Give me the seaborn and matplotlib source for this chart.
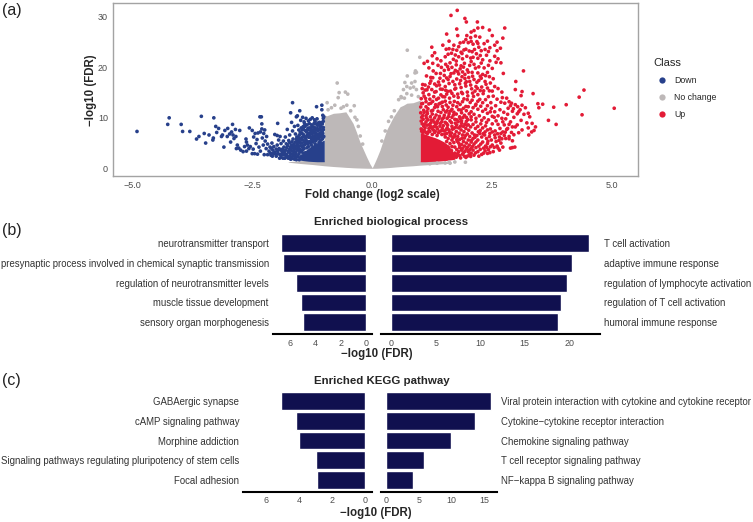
import matplotlib
matplotlib.use("Agg")
import matplotlib.pyplot as plt
import numpy as np
import pandas as pd
import seaborn as sns

W, H = 753, 522

# volcano: dense cores read as outlines, everything else as single points (log2FC, -log10 FDR)
grey_x = [-1.75, -1.5, -1.25, -1.0, -1.0, -0.95, -0.81, -0.68, -0.55, -0.47, -0.4, -0.33, -0.26, -0.19, -0.12, -0.05, 0.0,
          0.05, 0.1, 0.16, 0.23, 0.3, 0.37, 0.44, 0.51, 0.58, 0.65, 0.72, 0.85, 1.0, 1.0, 1.3, 1.65]
grey_top = [1.3, 1.5, 1.6, 1.6, 10.6, 10.4, 10.9, 11.0, 11.2, 10.0, 8.9, 7.2, 5.3, 3.8, 2.3, 0.9, 0.1,
            1.1, 2.2, 3.6, 5.6, 7.6, 8.9, 10.2, 11.2, 12.2, 12.5, 12.9, 13.0, 13.5, 1.5, 1.5, 1.2]
grey_bottom = [1.2, 0.95, 0.75, 0.5, 0.5, 0.46, 0.35, 0.27, 0.18, 0.14, 0.1, 0.07, 0.05, 0.03, 0.01, 0.0, 0.0,
               0.0, 0.01, 0.04, 0.07, 0.11, 0.16, 0.22, 0.28, 0.33, 0.38, 0.42, 0.5, 0.62, 0.62, 0.8, 1.0]

up_core_x = [1.0, 1.1, 1.2, 1.3, 1.4, 1.5, 1.58, 1.66, 1.72]
up_core_top = [7.0, 6.8, 6.4, 6.1, 5.7, 5.2, 4.6, 3.6, 2.4]
up_core_bottom = [1.3, 1.3, 1.35, 1.4, 1.45, 1.5, 1.6, 1.7, 1.8]

down_core_x = [-1.5, -1.42, -1.33, -1.25, -1.15, -1.05, -1.0]
down_core_top = [2.4, 3.3, 4.0, 4.6, 5.0, 5.4, 5.6]
down_core_bottom = [1.6, 1.5, 1.4, 1.35, 1.3, 1.3, 1.3]

grey_points = [
    (-0.73, 16.9), (-0.69, 15.0), (-0.56, 15.1), (-0.51, 14.7), (-0.71, 14.0), (-0.94, 13.0), (-0.375, 12.4),
    (-0.53, 12.5), (-0.6, 12.2), (-0.78, 12.5), (-0.85, 12.0), (-0.92, 11.6), (-0.45, 11.4), (-0.65, 11.9),
    (-0.32, 9.6), (-0.29, 8.3), (-0.25, 6.4), (-0.36, 10.1), (-0.2, 4.8),
    (0.73, 23.4), (0.99, 22.0), (0.9, 19.3), (0.92, 19.0), (0.89, 18.9), (0.73, 18.3), (0.68, 17.0),
    (0.82, 16.9), (0.89, 17.2), (0.72, 16.2), (0.79, 15.9), (0.86, 16.1), (0.92, 15.6), (0.65, 15.6),
    (0.61, 14.0), (0.72, 14.8), (0.96, 14.2), (0.82, 14.5), (0.6, 14.2), (0.55, 13.6), (0.67, 13.9),
    (0.46, 11.4), (0.4, 10.2), (0.34, 9.3), (0.27, 7.4), (0.2, 5.4),
    (1.94, 1.2), (1.62, 1.0), (1.52, 1.05), (1.2, 0.9), (1.35, 1.0), (1.72, 1.25), (1.6, 1.2),
]

down_points = [
    (-4.9, 7.3), (-4.26, 8.7), (-4.23, 10.0), (-3.98, 8.7), (-3.95, 7.3), (-3.8, 7.3), (-3.66, 5.8), (-3.61, 6.3),
    (-3.56, 10.3), (-3.5, 6.9), (-3.47, 5.0), (-3.4, 6.6), (-3.32, 5.6), (-3.31, 6.0), (-3.3, 10.0), (-3.26, 8.3),
    (-3.2, 7.9), (-3.24, 7.1), (-3.12, 6.6), (-3.14, 6.3), (-3.09, 4.2), (-3.07, 7.5), (-3.01, 7.9), (-3.02, 6.3),
    (-2.91, 8.7), (-2.97, 6.8), (-2.95, 5.2), (-2.9, 6.6), (-2.85, 7.7), (-2.76, 7.5), (-2.81, 4.6), (-2.88, 5.9),
    (-2.84, 6.3), (-2.93, 7.2), (-2.78, 4.0), (-2.74, 3.6), (-2.83, 3.9), (-2.69, 3.3), (-2.66, 4.3), (-2.6, 4.6),
    (-2.62, 3.4), (-2.57, 3.9), (-2.54, 4.3), (-2.5, 2.9), (-2.48, 3.8), (-2.63, 5.8), (-2.62, 5.2), (-2.56, 8.0),
    (-2.5, 7.5), (-2.44, 6.9), (-2.47, 6.2), (-2.4, 5.7), (-2.38, 7.0), (-2.42, 4.9), (-2.36, 4.2), (-2.33, 3.4),
    (-2.39, 2.8), (-2.45, 2.9), (-2.34, 10.2), (-2.31, 10.2), (-2.3, 8.8), (-2.33, 7.2), (-2.3, 7.8), (-2.26, 6.9),
    (-2.24, 7.6), (-2.2, 6.3), (-2.29, 6.0), (-2.23, 5.4), (-2.18, 4.8), (-2.27, 4.6), (-2.21, 3.9), (-2.15, 3.4),
    (-2.25, 2.7), (-2.18, 2.7), (-2.12, 3.0), (-2.08, 2.4), (-2.13, 4.2), (-2.09, 5.0), (-2.05, 4.3), (-2.03, 3.2),
    (-2.0, 2.4), (-1.97, 8.9), (-2.03, 6.7), (-1.98, 6.5), (-1.92, 6.3), (-1.95, 5.6), (-1.9, 4.9), (-1.98, 4.6),
    (-1.94, 3.9), (-1.88, 3.3), (-1.96, 2.9), (-1.9, 2.2), (-1.85, 2.7), (-1.82, 2.0), (-1.84, 4.2), (-1.8, 3.6),
    (-1.78, 2.7), (-1.75, 2.0), (-1.85, 5.4), (-1.81, 6.2), (-1.77, 7.7), (-1.74, 5.5), (-1.76, 4.5), (-1.72, 3.8),
    (-1.7, 2.9), (-1.68, 1.9), (-1.72, 6.6), (-1.66, 13.0), (-1.7, 11.0), (-1.68, 9.1), (-1.66, 7.4), (-1.65, 5.8),
    (-1.63, 4.8), (-1.66, 4.1), (-1.62, 3.3), (-1.64, 2.5), (-1.6, 2.0), (-1.58, 1.7), (-1.62, 8.3), (-1.6, 6.8),
    (-1.58, 10.2), (-1.56, 10.4), (-1.51, 11.4), (-1.55, 8.5), (-1.53, 7.6), (-1.57, 6.2), (-1.55, 5.2), (-1.52, 4.4),
    (-1.56, 3.6), (-1.53, 2.8), (-1.5, 2.1), (-1.49, 9.5), (-1.48, 8.0), (-1.46, 6.9), (-1.5, 5.9), (-1.47, 5.0),
    (-1.45, 4.2), (-1.48, 3.3), (-1.45, 10.1), (-1.42, 9.2), (-1.43, 7.7), (-1.41, 6.3), (-1.44, 5.6), (-1.4, 4.7),
    (-1.42, 3.9), (-1.39, 3.1), (-1.38, 9.9), (-1.36, 8.6), (-1.37, 7.2), (-1.35, 6.6), (-1.38, 5.6), (-1.35, 5.0),
    (-1.33, 4.3), (-1.31, 8.0), (-1.33, 9.4), (-1.29, 9.7), (-1.3, 7.0), (-1.28, 6.1), (-1.31, 5.3), (-1.27, 4.6),
    (-1.25, 10.0), (-1.26, 8.6), (-1.23, 7.6), (-1.25, 6.8), (-1.22, 5.9), (-1.24, 5.2), (-1.2, 9.6), (-1.21, 8.9),
    (-1.19, 8.0), (-1.18, 7.0), (-1.2, 6.3), (-1.17, 5.5), (-1.16, 12.2), (-1.15, 9.8), (-1.14, 8.5), (-1.13, 7.4),
    (-1.15, 6.7), (-1.12, 5.9), (-1.11, 5.0), (-1.1, 9.1), (-1.09, 7.9), (-1.08, 7.0), (-1.1, 6.2), (-1.07, 5.6),
    (-1.05, 12.5), (-1.05, 11.6), (-1.03, 10.5), (-1.02, 9.9), (-1.04, 8.8), (-1.02, 8.1), (-1.05, 7.5), (-1.03, 6.9),
    (-1.01, 6.3), (-1.04, 5.8), (-1.02, 9.3), (-1.01, 10.2), (-1.07, 8.3), (-1.12, 9.0), (-1.17, 7.6), (-1.22, 8.2),
    (-1.28, 7.5), (-1.34, 7.9), (-1.4, 8.3), (-1.46, 7.6), (-1.52, 6.6), (-1.6, 5.2), (-1.68, 4.6), (-1.75, 3.2),
    (-1.83, 3.1), (-1.92, 2.7), (-1.6, 3.9), (-1.55, 2.3), (-1.5, 3.7), (-1.47, 2.4), (-1.44, 3.0), (-1.58, 4.4),
    (-1.65, 3.4), (-1.7, 4.2), (-1.78, 4.1), (-1.87, 3.8), (-2.0, 3.8), (-2.07, 3.6), (-2.11, 2.6), (-1.93, 2.0),
    (-1.86, 2.0), (-1.79, 2.3), (-1.73, 2.3), (-1.67, 2.2), (-1.62, 1.8), (-1.52, 1.7), (-1.6, 2.7), (-1.7, 1.8),
    # second pass over the crowded part left of -1
    (-1.03, 6.05), (-1.06, 6.55), (-1.09, 5.35), (-1.13, 6.35), (-1.16, 5.95), (-1.19, 4.85), (-1.21, 5.55), (-1.24, 6.25),
    (-1.26, 5.65), (-1.29, 5.05), (-1.32, 6.15), (-1.34, 4.85), (-1.36, 4.05), (-1.37, 5.35), (-1.39, 6.05), (-1.41, 5.15),
    (-1.43, 4.55), (-1.45, 3.65), (-1.46, 6.15), (-1.49, 4.45), (-1.51, 3.25), (-1.54, 3.95), (-1.56, 4.75), (-1.59, 3.15),
    (-1.61, 2.35), (-1.63, 3.85), (-1.65, 2.85), (-1.67, 5.25), (-1.69, 3.55), (-1.71, 2.45), (-1.74, 3.45), (-1.77, 2.25),
    (-1.81, 2.65), (-1.84, 3.45), (-1.89, 2.75), (-1.91, 3.65), (-1.97, 3.35), (-2.02, 2.85), (-2.06, 2.95), (-2.1, 3.95),
    (-1.04, 7.15), (-1.08, 7.65), (-1.11, 6.75), (-1.14, 7.85), (-1.18, 6.55), (-1.21, 7.15), (-1.24, 7.35), (-1.27, 6.95),
    (-1.3, 6.45), (-1.33, 6.85), (-1.36, 6.25), (-1.39, 7.45), (-1.43, 6.65), (-1.47, 5.65), (-1.5, 5.05), (-1.53, 5.45),
    (-1.02, 7.65), (-1.06, 9.05), (-1.09, 8.45), (-1.16, 8.75), (-1.19, 9.25), (-1.27, 8.05), (-1.31, 8.85), (-1.35, 7.55),
    (-1.41, 8.85), (-1.44, 8.25), (-1.5, 7.15), (-1.54, 6.15), (-1.58, 5.75), (-1.62, 4.35), (-1.72, 5.05), (-1.79, 4.85),
]

up_points = [
    (5.04, 11.9), (4.41, 15.5), (4.31, 14.1), (4.37, 10.6), (4.04, 12.6), (3.78, 12.1), (3.83, 8.7), (3.67, 9.5),
    (3.55, 12.7), (3.45, 12.8), (3.47, 12.0), (3.35, 14.8), (3.15, 19.3), (3.12, 15.2), (3.1, 14.4), (2.99, 17.2),
    (2.98, 15.6), (2.76, 27.8), (2.72, 25.8), (2.73, 18.8), (1.77, 31.3), (1.64, 30.3), (1.93, 29.7), (1.96, 29.0),
    (2.19, 29.0), (1.24, 24.0), (2.3, 27.9), (2.44, 27.4), (2.2, 27.8), (2.12, 27.3), (2.06, 27.0), (1.76, 27.6),
    (1.55, 26.6), (1.78, 26.3), (1.6, 25.2), (1.97, 26.3), (1.95, 25.5), (2.05, 25.9), (2.15, 26.2), (2.24, 26.0),
    (2.5, 26.3), (2.6, 25.0), (2.55, 24.4), (2.4, 25.2), (2.33, 24.7), (2.18, 25.1), (2.0, 24.9), (1.9, 25.0),
    (1.7, 24.4), (1.47, 24.4), (1.54, 23.6), (1.6, 23.7), (1.8, 24.1), (2.1, 24.6), (2.22, 24.0), (2.45, 23.9),
    (2.6, 23.3), (2.67, 23.8), (1.25, 22.3), (1.3, 22.9), (1.35, 21.7), (1.43, 21.3), (1.52, 22.1), (1.58, 22.6),
    (1.65, 22.8), (1.76, 23.4), (1.85, 23.0), (1.95, 23.6), (2.08, 23.1), (2.17, 22.7), (2.27, 23.3), (2.38, 22.4),
    (2.55, 22.2), (2.62, 21.7), (2.68, 20.9), (2.58, 21.0), (2.45, 21.3), (2.3, 21.5), (2.2, 21.8), (2.1, 22.0),
    (1.97, 22.2), (1.88, 21.7), (1.8, 22.1), (1.69, 21.6), (1.62, 20.9), (1.53, 20.6), (1.44, 20.0), (1.37, 20.4),
    (1.26, 20.8), (1.15, 21.2), (1.08, 20.8), (1.18, 19.9), (1.27, 19.3), (1.33, 18.8), (1.42, 18.8), (1.5, 19.4),
    (1.59, 19.6), (1.66, 20.0), (1.75, 20.5), (1.85, 20.3), (1.92, 20.8), (2.03, 20.4), (2.12, 20.6), (2.22, 20.1),
    (2.33, 19.9), (2.42, 20.4), (2.5, 19.8), (2.4, 19.0), (2.3, 18.6), (2.2, 18.9), (2.08, 19.0), (1.98, 19.5),
    (1.88, 19.1), (1.8, 18.7), (1.7, 18.9), (1.62, 18.2), (1.55, 17.9), (1.48, 17.3), (1.38, 17.1), (1.3, 16.7),
    (1.22, 17.3), (1.13, 18.3), (1.22, 18.0), (1.05, 16.6), (1.1, 16.5), (1.17, 16.1), (1.04, 15.8), (1.1, 15.5),
    (1.24, 15.6), (1.33, 15.2), (1.42, 15.7), (1.52, 16.2), (1.6, 16.8), (1.68, 17.2), (1.76, 17.7), (1.84, 17.4),
    (1.93, 17.8), (2.01, 18.0), (2.12, 17.6), (2.22, 17.4), (2.35, 17.2), (2.46, 16.9), (2.55, 16.2), (2.62, 15.8),
    (2.7, 15.1), (2.5, 15.3), (2.4, 15.9), (2.28, 16.1), (2.16, 16.2), (2.05, 16.5), (1.95, 16.3), (1.85, 16.0),
    (1.72, 15.7), (1.63, 15.3), (1.55, 14.7), (1.47, 14.2), (1.38, 13.9), (1.28, 14.2), (1.18, 14.6), (1.08, 14.3),
    (1.02, 13.8), (1.03, 12.8), (1.12, 13.2), (1.22, 12.9), (1.32, 12.6), (1.42, 12.9), (1.52, 13.3), (1.61, 13.9),
    (1.7, 14.3), (1.78, 14.7), (1.88, 14.8), (1.98, 15.1), (2.09, 14.9), (2.2, 14.6), (2.31, 14.8), (2.42, 14.2),
    (2.52, 14.3), (2.6, 13.7), (2.71, 14.0), (2.8, 13.9), (2.85, 13.2), (2.76, 12.9), (2.88, 12.4), (2.83, 11.9),
    (2.92, 11.3), (2.98, 12.6), (3.03, 12.2), (3.08, 11.6), (3.19, 12.0), (3.25, 10.9), (3.28, 10.2), (3.16, 10.7),
    (3.02, 10.8), (2.95, 10.1), (3.1, 9.5), (3.22, 9.0), (3.33, 8.9), (3.4, 8.2), (3.25, 8.0), (3.32, 7.2),
    (3.37, 7.5), (3.26, 6.6), (3.12, 7.6), (2.98, 8.2), (2.85, 8.7), (2.75, 8.6), (2.7, 9.9), (2.62, 10.4),
    (2.55, 11.2), (2.48, 11.9), (2.4, 12.4), (2.3, 13.0), (2.2, 13.3), (2.08, 13.5), (1.98, 13.6), (1.88, 13.2),
    (1.78, 13.0), (1.68, 12.5), (1.58, 12.1), (1.48, 11.6), (1.37, 11.3), (1.26, 11.5), (1.16, 11.8), (1.07, 11.5),
    (1.01, 11.0), (1.03, 10.1), (1.12, 10.4), (1.21, 10.2), (1.3, 10.0), (1.4, 10.3), (1.5, 10.5), (1.6, 10.8),
    (1.7, 11.1), (1.8, 11.6), (1.9, 11.9), (2.0, 12.2), (2.1, 12.0), (2.2, 11.7), (2.3, 11.3), (2.4, 10.9),
    (2.5, 10.3), (2.58, 9.4), (2.5, 8.8), (2.42, 9.6), (2.33, 10.0), (2.23, 10.4), (2.12, 10.7), (2.02, 10.8),
    (1.92, 10.5), (1.82, 10.2), (1.72, 9.7), (1.62, 9.4), (1.52, 9.1), (1.42, 8.9), (1.32, 8.7), (1.22, 9.0),
    (1.12, 9.2), (1.04, 8.8), (1.02, 7.8), (1.1, 8.0), (1.18, 7.9), (1.27, 7.6), (1.36, 7.8), (1.46, 7.9),
    (1.56, 8.0), (1.66, 8.3), (1.76, 8.6), (1.86, 8.9), (1.96, 9.3), (2.06, 9.6), (2.16, 9.2), (2.26, 8.8),
    (2.36, 8.4), (2.46, 7.8), (2.56, 7.4), (2.66, 7.9), (2.72, 7.2), (2.8, 7.7), (2.9, 7.1), (2.85, 6.3),
    (2.75, 6.5), (2.65, 6.2), (2.55, 6.6), (2.45, 6.9), (2.35, 7.2), (2.25, 7.5), (2.15, 7.9), (2.05, 8.2),
    (1.95, 7.9), (1.85, 7.6), (1.75, 7.3), (1.65, 7.0), (1.55, 6.9), (1.45, 6.7), (1.35, 6.5), (1.25, 6.7),
    (1.15, 6.9), (1.05, 7.1), (1.58, 5.9), (1.68, 6.1), (1.78, 6.3), (1.88, 6.6), (1.98, 6.8), (2.08, 7.0),
    (2.18, 6.5), (2.28, 6.2), (2.38, 5.9), (2.48, 5.6), (2.58, 5.3), (2.68, 5.0), (2.72, 4.2), (2.6, 4.4),
    (2.5, 4.6), (2.4, 4.9), (2.3, 5.2), (2.2, 5.6), (2.1, 5.9), (2.0, 5.6), (1.9, 5.3), (1.8, 5.0),
    (1.7, 5.1), (1.62, 4.9), (1.72, 4.2), (1.82, 4.1), (1.92, 4.4), (2.02, 4.6), (2.12, 4.8), (2.22, 4.4),
    (2.32, 4.0), (2.42, 3.7), (2.52, 3.3), (2.62, 4.0), (2.65, 3.6), (2.45, 3.1), (2.32, 3.0), (2.2, 3.3),
    (2.1, 3.6), (2.0, 3.3), (1.9, 3.1), (1.8, 3.3), (1.72, 3.0), (1.82, 2.5), (1.92, 2.4), (2.02, 2.7),
    (2.12, 2.6), (2.22, 2.4), (1.75, 2.2), (1.65, 3.5), (1.58, 4.2), (2.92, 4.1), (2.88, 4.0), (2.97, 4.2),
    (3.02, 8.6), (2.78, 9.8), (2.88, 9.2), (2.92, 8.2), (2.82, 7.9), (2.78, 5.9), (2.68, 6.9), (2.62, 8.7),
    (2.72, 9.2), (2.66, 11.6), (2.74, 11.1), (2.82, 10.7), (2.9, 12.9), (2.94, 11.8), (3.05, 11.2), (3.12, 12.5),
    (1.12, 12.2), (1.2, 13.7), (1.3, 15.1), (1.4, 16.5), (1.5, 18.4), (1.58, 17.6), (1.73, 19.4), (1.83, 19.7),
    (1.93, 18.6), (2.03, 17.2), (2.14, 15.3), (2.25, 15.4), (2.36, 13.6), (2.47, 13.0), (2.57, 12.4), (2.68, 13.1),
    (1.36, 12.2), (1.46, 13.1), (1.56, 11.4), (1.66, 11.7), (1.76, 12.2), (1.86, 11.0), (1.96, 11.4), (2.06, 11.2),
    (2.16, 12.7), (2.26, 12.3), (2.36, 11.7), (2.46, 11.2), (2.54, 10.1), (1.06, 9.7), (1.16, 9.6), (1.26, 9.5),
    (1.36, 9.4), (1.46, 9.8), (1.56, 9.9), (1.66, 10.1), (1.76, 9.6), (1.86, 9.4), (1.96, 10.1), (2.06, 10.2),
    (2.16, 9.9), (2.28, 9.5), (2.38, 9.1), (1.08, 7.5), (1.2, 7.3), (1.3, 7.1), (1.4, 7.3), (1.5, 7.4),
    (1.6, 7.6), (1.7, 7.9), (1.8, 8.0), (1.9, 8.3), (2.0, 8.6), (2.1, 8.7), (2.2, 8.3), (2.3, 8.0),
    (2.4, 7.6), (2.5, 7.2), (1.52, 6.2), (1.62, 6.5), (1.72, 6.7), (1.82, 5.7), (1.92, 6.0), (2.03, 6.3),
    (2.13, 6.6), (2.24, 6.9), (2.34, 6.6), (2.44, 6.3), (1.55, 5.3), (1.66, 5.6), (1.76, 5.7), (1.86, 4.7),
    (1.96, 5.0), (2.06, 5.2), (2.16, 5.2), (2.26, 4.8), (2.36, 4.4), (1.66, 4.3), (1.76, 3.7), (1.86, 3.6),
    (1.96, 3.8), (2.06, 4.0), (2.16, 4.1), (1.7, 2.7), (1.78, 2.9), (1.88, 2.8), (1.98, 2.4), (2.06, 3.0),
    # second pass, crowded left half of the fan
    (1.03, 7.35), (1.07, 8.35), (1.11, 7.15), (1.14, 8.55), (1.17, 7.25), (1.21, 8.35), (1.24, 7.95), (1.28, 8.25),
    (1.31, 7.35), (1.34, 8.15), (1.38, 7.05), (1.41, 8.35), (1.44, 7.45), (1.48, 8.45), (1.51, 6.75), (1.54, 7.65),
    (1.57, 8.55), (1.61, 7.15), (1.64, 6.45), (1.67, 7.75), (1.71, 6.25), (1.74, 8.15), (1.77, 5.35), (1.81, 6.95),
    (1.84, 8.35), (1.87, 5.95), (1.91, 7.25), (1.94, 6.45), (1.97, 8.55), (2.01, 7.55), (1.02, 9.35), (1.05, 10.45),
    (1.09, 8.75), (1.13, 9.95), (1.15, 10.85), (1.19, 8.65), (1.23, 9.55), (1.25, 10.75), (1.29, 9.15), (1.33, 10.55),
    (1.35, 8.95), (1.39, 9.85), (1.43, 11.05), (1.45, 9.25), (1.49, 10.05), (1.53, 11.15), (1.55, 8.85), (1.59, 10.25),
    (1.63, 11.35), (1.65, 9.05), (1.69, 10.55), (1.73, 8.95), (1.75, 10.75), (1.79, 9.25), (1.83, 9.85), (1.85, 11.55),
    (1.89, 10.05), (1.93, 8.75), (1.95, 12.25), (1.99, 9.65), (1.01, 12.15), (1.05, 12.85), (1.08, 11.05), (1.11, 13.85),
    (1.14, 11.25), (1.18, 12.75), (1.23, 11.35), (1.26, 13.25), (1.3, 12.05), (1.34, 13.65), (1.39, 12.75), (1.43, 14.55),
    (1.46, 12.25), (1.51, 14.15), (1.54, 12.55), (1.57, 15.25), (1.62, 13.05), (1.66, 14.85), (1.71, 13.25), (1.74, 15.85),
    (1.79, 14.05), (1.83, 12.65), (1.86, 15.05), (1.91, 13.75), (1.94, 16.85), (1.99, 14.35), (2.04, 13.05), (2.07, 15.75),
    (2.11, 14.25), (2.15, 12.45), (2.19, 15.85), (2.24, 13.65), (2.27, 17.85), (2.32, 15.35), (2.37, 16.65), (2.44, 15.35),
    (1.06, 14.95), (1.14, 15.55), (1.2, 16.85), (1.26, 17.95), (1.34, 16.35), (1.41, 17.85), (1.46, 15.65), (1.53, 15.45),
    (1.57, 20.15), (1.64, 18.75), (1.72, 16.55), (1.78, 19.15), (1.82, 16.75), (1.87, 18.15), (1.9, 20.05), (1.96, 17.15),
    (2.0, 19.05), (2.06, 21.15), (2.09, 18.25), (2.15, 19.85), (2.18, 17.05), (2.25, 18.25), (2.27, 20.85), (2.36, 18.35),
    (2.44, 18.15), (2.52, 17.75), (1.68, 23.55), (1.73, 22.45), (1.83, 24.85), (1.87, 22.75), (1.91, 23.45), (2.02, 23.25),
    (2.06, 25.15), (2.13, 23.55), (2.2, 24.75), (2.25, 22.35), (2.35, 23.55), (2.42, 23.15), (2.05, 21.85), (1.75, 21.25),
    (2.07, 5.55), (2.14, 6.15), (2.21, 7.25), (2.31, 6.85), (2.41, 5.35), (2.46, 4.25), (2.54, 4.15), (2.56, 6.05),
    (2.61, 6.85), (2.64, 5.55), (2.7, 5.85), (2.77, 7.15), (2.85, 5.85), (2.92, 5.45), (2.95, 6.65), (3.05, 7.05),
    (1.82, 4.55), (1.88, 3.95), (1.93, 3.35), (1.98, 4.15), (2.03, 3.65), (2.09, 4.35), (2.15, 3.05), (2.25, 3.75),
    (2.35, 3.45), (2.38, 4.15), (2.28, 2.75), (2.4, 2.95), (1.76, 2.45), (1.84, 2.05), (1.95, 2.15), (2.05, 2.35),
]

# gene set enrichment bars
bp_down_terms = ["neurotransmitter transport", "presynaptic process involved in chemical synaptic transmission",
                 "regulation of neurotransmitter levels", "muscle tissue development", "sensory organ morphogenesis"]
bp_down_vals = [6.71, 6.55, 5.58, 5.16, 4.97]
bp_up_terms = ["T cell activation", "adaptive immune response", "regulation of lymphocyte activation",
               "regulation of T cell activation", "humoral immune response"]
bp_up_vals = [22.2, 20.3, 19.7, 19.06, 18.76]
kegg_down_terms = ["GABAergic synapse", "cAMP signaling pathway", "Morphine addiction",
                   "Signaling pathways regulating pluripotency of stem cells", "Focal adhesion"]
kegg_down_vals = [5.07, 4.16, 4.0, 2.97, 2.89]
kegg_up_terms = ["Viral protein interaction with cytokine and cytokine receptor",
                 "Cytokine\u2212cytokine receptor interaction", "Chemokine signaling pathway",
                 "T cell receptor signaling pathway", "NF\u2212kappa B signaling pathway"]
kegg_up_vals = [16.05, 13.6, 9.95, 5.74, 4.05]

class_colors = {"Down": "#27408b", "No change": "#bdb8b8", "Up": "#e31b36"}
bar_color = "#10104f"

sns.set_theme(style="white")
plt.rcParams["font.family"] = ["Liberation Sans", "DejaVu Sans"]
plt.rcParams["axes.unicode_minus"] = True


def add_axes_px(fig, left, right, top, bottom):
    return fig.add_axes([left / W, 1 - bottom / H, (right - left) / W, (bottom - top) / H])


fig = plt.figure(figsize=(W / 100, H / 100), dpi=100, facecolor="white")

# (a) volcano
ax = add_axes_px(fig, 113, 637.5, 3.3, 176)
ax.fill_between(grey_x, grey_bottom, grey_top, color=class_colors["No change"], lw=0)
ax.fill_between(up_core_x, up_core_bottom, up_core_top, color=class_colors["Up"], lw=0)
ax.fill_between(down_core_x, down_core_bottom, down_core_top, color=class_colors["Down"], lw=0)

frames = []
for name, pts in [("No change", grey_points), ("Down", down_points), ("Up", up_points)]:
    d = pd.DataFrame(pts, columns=["fc", "fdr"])
    d["Class"] = name
    frames.append(d)
volcano = pd.concat(frames, ignore_index=True)

sns.scatterplot(data=volcano, x="fc", y="fdr", hue="Class", hue_order=["Down", "No change", "Up"],
                palette=class_colors, s=7, linewidth=0, ax=ax, zorder=3)
ax.set_xlim(-5.4, 5.525)
ax.set_ylim(-1.53, 32.7)
ax.set_xticks([-5, -2.5, 0, 2.5, 5])
ax.set_xticklabels(["\u22125.0", "\u22122.5", "0.0", "2.5", "5.0"])
ax.set_yticks([0, 10, 20, 30])
ax.tick_params(axis="both", length=2.2, width=0.7, color="#333333", labelsize=6.5, labelcolor="#4d4d4d", pad=1.5)
for s in ax.spines.values():
    s.set_color("#a3a3a3")
    s.set_linewidth(1.0)
ax.set_xlabel("")
ax.set_ylabel("")
sns.move_legend(ax, "upper left", bbox_to_anchor=(1.03, 0.683), frameon=False, title="Class", fontsize=6.3,
                title_fontsize=8, markerscale=1.7, labelspacing=0.9, borderpad=0, handletextpad=0.4,
                borderaxespad=0)
ax.get_legend()._legend_box.align = "left"
fig.text(372 / W, 1 - 195 / H, "Fold change (log2 scale)", ha="center", va="center", fontsize=8.3, fontweight="bold")
fig.text(91 / W, 1 - 90 / H, "\u2212log10 (FDR)", ha="center", va="center", rotation=90, fontsize=8.3,
         fontweight="bold")


def enrich_panel(terms, vals, left, right, top, bottom, xlim, ticks, side):
    a = add_axes_px(fig, left, right, top, bottom)
    sns.barplot(x=vals, y=terms, color=bar_color, saturation=1, width=0.9, orient="h", ax=a)
    a.set_xlim(*xlim)
    a.set_ylim(4.6, -0.6)
    a.set_xticks(ticks)
    a.set_xlabel("")
    a.set_ylabel("")
    sns.despine(ax=a, left=True, right=True, top=True)
    a.spines["bottom"].set_color("black")
    a.spines["bottom"].set_linewidth(1.5)
    a.tick_params(axis="x", length=2, width=0.7, color="#333333", labelsize=6.4, labelcolor="#4d4d4d", pad=1.2)
    if side == "right":
        a.yaxis.tick_right()
    a.tick_params(axis="y", length=0, labelsize=6.9, labelcolor="#333333", pad=3)
    return a


enrich_panel(bp_down_terms, bp_down_vals, 273, 371.7, 231.1, 334.2, (7.364, -0.426), [0, 2, 4, 6], "left")
enrich_panel(bp_up_terms, bp_up_vals, 380.7, 599.7, 231.1, 334.2, (-1.19, 23.42), [0, 5, 10, 15, 20], "right")
enrich_panel(kegg_down_terms, kegg_down_vals, 243.3, 371.7, 389.2, 492, (7.376, -0.406), [0, 2, 4, 6], "left")
enrich_panel(kegg_up_terms, kegg_up_vals, 380.7, 496.7, 389.2, 492, (-0.86, 16.98), [0, 5, 10, 15], "right")

fig.text(391 / W, 1 - 222.5 / H, "Enriched biological process", ha="center", va="center", fontsize=8.25,
         fontweight="bold")
fig.text(377 / W, 1 - 354 / H, "\u2212log10 (FDR)", ha="center", va="center", fontsize=8.3, fontweight="bold")
fig.text(382 / W, 1 - 380.5 / H, "Enriched KEGG pathway", ha="center", va="center", fontsize=8.25, fontweight="bold")
fig.text(376 / W, 1 - 513 / H, "\u2212log10 (FDR)", ha="center", va="center", fontsize=8.3, fontweight="bold")

fig.text(2 / W, 1 - 10 / H, "(a)", ha="left", va="center", fontsize=11.5, color="#222222")
fig.text(2 / W, 1 - 231 / H, "(b)", ha="left", va="center", fontsize=11.5, color="#222222")
fig.text(2 / W, 1 - 380 / H, "(c)", ha="left", va="center", fontsize=11.5, color="#222222")

fig.savefig("out.png", dpi=100)
